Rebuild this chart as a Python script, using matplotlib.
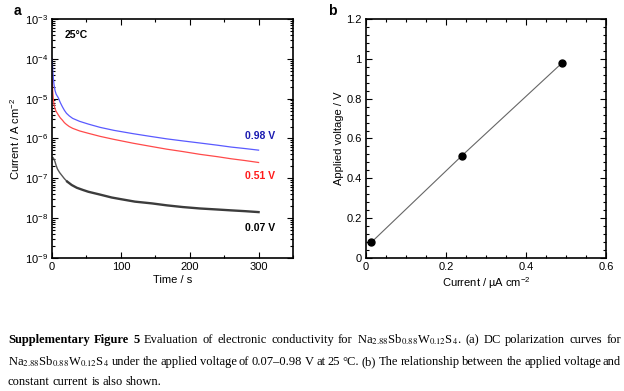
import numpy as np
import matplotlib
matplotlib.use("Agg")
import matplotlib.pyplot as plt
from matplotlib.ticker import MultipleLocator, LogLocator, NullFormatter

plt.rcParams['font.family'] = ['Liberation Sans', 'DejaVu Sans']
plt.rcParams['mathtext.fontset'] = 'stix'

# ---- panel a: DC polarization curves ----
t_098 = [0.3, 1, 2, 3, 4.4, 6, 9.2, 12, 15, 18, 21, 25, 30, 40, 52.8, 70,
         90, 118, 140, 166.5, 190, 215, 240, 260, 280, 300]
i_098 = [1.0e-4, 5.5e-5, 3.2e-5, 2.2e-5, 1.6e-5, 1.3e-5, 1.05e-5, 8.0e-6,
         6.3e-6, 5.1e-6, 4.3e-6, 3.7e-6, 3.2e-6, 2.7e-6, 2.3e-6, 1.9e-6,
         1.6e-6, 1.32e-6, 1.15e-6, 9.8e-7, 8.7e-7, 7.7e-7, 6.8e-7, 6.1e-7,
         5.6e-7, 5.1e-7]

t_051 = [0.3, 1, 2, 3, 4.4, 6, 9.2, 12, 15, 18, 21, 25, 30, 40, 52.8, 70,
         90, 118, 140, 166.5, 190, 215, 240, 260, 280, 300]
i_051 = [3.0e-5, 1.6e-5, 9.5e-6, 7.0e-6, 5.6e-6, 4.8e-6, 3.9e-6, 3.3e-6,
         2.9e-6, 2.5e-6, 2.25e-6, 2.0e-6, 1.8e-6, 1.55e-6, 1.35e-6, 1.13e-6,
         9.5e-7, 7.6e-7, 6.5e-7, 5.4e-7, 4.7e-7, 4.0e-7, 3.5e-7, 3.1e-7,
         2.8e-7, 2.5e-7]

t_007 = [1.5, 3, 4.4, 6, 8, 11, 14, 18, 22, 28.6, 36, 45, 52.8, 70, 86.7,
         100, 120.5, 145, 166.5, 190, 215, 240, 260, 280, 300]
i_007 = [3.3e-7, 3.0e-7, 2.6e-7, 2.1e-7, 1.7e-7, 1.4e-7, 1.2e-7, 9.8e-8,
         8.3e-8, 6.8e-8, 5.8e-8, 5.1e-8, 4.6e-8, 3.9e-8, 3.3e-8, 3.0e-8,
         2.6e-8, 2.35e-8, 2.1e-8, 1.9e-8, 1.75e-8, 1.65e-8, 1.57e-8, 1.5e-8,
         1.42e-8]

# ---- panel b: applied voltage vs steady current ----
cur_b = [0.013, 0.240, 0.491]
volt_b = [0.078, 0.514, 0.981]

fig = plt.figure(figsize=(6.24, 3.91), dpi=100)
W, H = 624, 391

def px_axes(l, r, t, b):
    return fig.add_axes([l / W, 1 - b / H, (r - l) / W, (b - t) / H])

def style(ax):
    ax.tick_params(which='both', direction='in', top=True, right=True,
                   labelsize=8, width=0.8)
    ax.tick_params(which='major', length=4.5, pad=3)
    ax.tick_params(which='minor', length=2.5)
    for s in ax.spines.values():
        s.set_linewidth(1.2)

axa = px_axes(52, 293, 19, 258)
axa.semilogy(t_098, i_098, color='#5a5aff', lw=0.9)
axa.semilogy(t_051, i_051, color='#ff4a4a', lw=0.9)
# early part is a thin trace, later part is a noisy band
axa.semilogy(t_007[:9], i_007[:9], color='#555555', lw=1.0)
axa.semilogy(t_007[8:], i_007[8:], color='#3c3c3c', lw=1.7)
axa.set_xlim(0, 350)
axa.set_ylim(1e-9, 1e-3)
axa.xaxis.set_major_locator(MultipleLocator(100))
axa.xaxis.set_minor_locator(MultipleLocator(50))
axa.yaxis.set_major_locator(LogLocator(base=10, numticks=10))
axa.yaxis.set_minor_locator(LogLocator(base=10, subs=np.arange(2, 10), numticks=20))
axa.yaxis.set_minor_formatter(NullFormatter())
axa.set_xlabel('Time / s', fontsize=8, labelpad=2)
axa.set_ylabel(r'Current / A cm$\mathregular{^{-2}}$', fontsize=8, labelpad=2)
style(axa)
axa.text(0.054, 0.935, '25°C', transform=axa.transAxes, fontsize=7.5,
         fontweight='bold', va='center')
axa.text(0.80, 0.51, '0.98 V', transform=axa.transAxes, fontsize=7.5,
         fontweight='bold', color='#1a1ab0', va='center')
axa.text(0.80, 0.343, '0.51 V', transform=axa.transAxes, fontsize=7.5,
         fontweight='bold', color='#ff1a1a', va='center')
axa.text(0.80, 0.125, '0.07 V', transform=axa.transAxes, fontsize=7.5,
         fontweight='bold', color='black', va='center')

axb = px_axes(366, 606, 19, 258)
axb.plot(cur_b, volt_b, color='#666666', lw=0.8, zorder=1)
axb.plot(cur_b, volt_b, 'o', color='black', ms=5, zorder=2)
axb.set_xlim(0, 0.6)
axb.set_ylim(0, 1.2)
axb.xaxis.set_major_locator(MultipleLocator(0.2))
axb.xaxis.set_minor_locator(MultipleLocator(0.05))
axb.yaxis.set_major_locator(MultipleLocator(0.2))
axb.yaxis.set_minor_locator(MultipleLocator(0.04))
axb.xaxis.set_major_formatter(plt.FuncFormatter(lambda v, p: f'{v:g}'))
axb.yaxis.set_major_formatter(plt.FuncFormatter(lambda v, p: f'{v:g}'))
axb.set_xlabel(r'Current / µA cm$\mathregular{^{-2}}$', fontsize=8, labelpad=2)
axb.set_ylabel('Applied voltage / V', fontsize=8, labelpad=2)
style(axb)

fig.text(14 / W, 1 - 11 / H, 'a', fontsize=10, fontweight='bold', va='center')
fig.text(328 / W, 1 - 11 / H, 'b', fontsize=10, fontweight='bold', va='center')

# ---- caption, justified like the source page ----
formula = r'Na$_{2.88}$Sb$_{0.88}$W$_{0.12}$S$_{4}$'
line1 = [('Supplementary', 'bold'), ('Figure', 'bold'), ('5', 'bold'),
         ('Evaluation', 'normal'), ('of', 'normal'), ('electronic', 'normal'),
         ('conductivity', 'normal'), ('for', 'normal'), (formula + '.', 'normal'),
         ('(a)', 'normal'), ('DC', 'normal'), ('polarization', 'normal'),
         ('curves', 'normal'), ('for', 'normal')]
line2 = [(formula, 'normal')] + [(w, 'normal') for w in
         'under the applied voltage of 0.07–0.98 V at 25 °C. (b) The relationship between the applied voltage and'.split(' ')]
line3 = [(w, 'normal') for w in 'constant current is also shown.'.split(' ')]

renderer = fig.canvas.get_renderer()

def caption_line(words, y_px, x0=8, x1=621, justify=True):
    texts = [fig.text(0, 1 - y_px / H, w, fontsize=9, fontweight=wt,
                      family='Liberation Serif', va='baseline')
             for w, wt in words]
    widths = [t.get_window_extent(renderer).width for t in texts]
    if justify:
        gap = (x1 - x0 - sum(widths)) / (len(texts) - 1)
    else:
        gap = 3.0
    x = x0
    for t, w in zip(texts, widths):
        t.set_x(x / W)
        x += w + gap

caption_line(line1, 343)
caption_line(line2, 365)
caption_line(line3, 385, justify=False)

fig.savefig('out.png', dpi=100)
